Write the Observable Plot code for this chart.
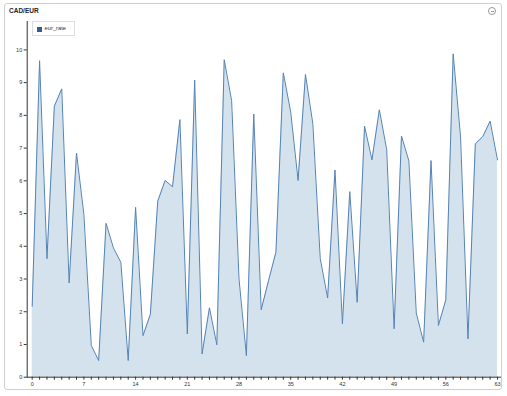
<!DOCTYPE html>
<html>
<head>
<meta charset="utf-8">
<script src="https://cdn.jsdelivr.net/npm/d3@7"></script>
<script src="https://cdn.jsdelivr.net/npm/@observablehq/plot@0.6"></script>
<style>
  html, body { margin: 0; padding: 0; background: #fff; width: 507px; height: 396px; overflow: hidden; font-family: "Liberation Sans", Arial, sans-serif; }
  #card { position: absolute; left: 4px; top: 3px; width: 498px; height: 387px; border: 1px solid #cfcfcf; border-radius: 3px; box-sizing: border-box; }
  #title { position: absolute; left: 9px; top: 7px; font-size: 6.5px; font-weight: bold; color: #222; }
  #icon { position: absolute; left: 488px; top: 7px; width: 6px; height: 6px; border: 1px solid #999; border-radius: 50%; }
  #icon::after { content: ""; position: absolute; left: 1.5px; top: 2.5px; width: 3px; height: 1px; background: #999; }
  #chart { position: absolute; left: 0; top: 0; }
  #legend { position: absolute; left: 32px; top: 21px; width: 43px; height: 15px; border: 1px solid #ddd; background: #fff; box-sizing: border-box; font-size: 5.8px; color: #333; }
  #legend .sw { position: absolute; left: 4px; top: 4.5px; width: 5px; height: 5px; background: #2f5f91; }
  #legend .lb { position: absolute; left: 11.5px; top: 3.3px; }
</style>
</head>
<body>
<div id="card"></div>
<div id="chart"></div>
<div id="title">CAD/EUR</div>
<div id="icon"></div>
<div id="legend"><div class="sw"></div><div class="lb"></div></div>
<script>
const seriesName = "eur_rate";
const eurRate = [2.17, 9.67, 3.62, 8.28, 8.81, 2.88, 6.85, 4.97, 0.97, 0.51,
  4.70, 3.95, 3.51, 0.51, 5.19, 1.27, 1.92, 5.38, 6.01, 5.82,
  7.87, 1.32, 9.08, 0.71, 2.12, 0.99, 9.70, 8.45, 3.00, 0.66,
  8.04, 2.06, 2.95, 3.82, 9.30, 8.10, 6.01, 9.25, 7.74, 3.62,
  2.42, 6.33, 1.63, 5.67, 2.29, 7.67, 6.64, 8.17, 6.95, 1.48,
  7.37, 6.61, 1.96, 1.07, 6.62, 1.58, 2.36, 9.88, 7.33, 1.17,
  7.13, 7.35, 7.82, 6.64];
const xTickLabels = [0, 7, 14, 21, 28, 35, 42, 49, 56, 63];
const yTicks = [0, 1, 2, 3, 4, 5, 6, 7, 8, 9, 10];

const data = eurRate.map((v, i) => ({i, v}));
const yMax = d3.max(eurRate) * 1.1;

document.querySelector("#legend .lb").textContent = seriesName;

const chart = Plot.plot({
  width: 507,
  height: 396,
  marginLeft: 31.7,
  marginRight: 10,
  marginTop: 21,
  marginBottom: 19.3,
  style: {fontFamily: "Liberation Sans, Arial, sans-serif", fontSize: "5.5px", color: "#333", background: "transparent"},
  x: {domain: [0, eurRate.length - 1]},
  y: {domain: [0, yMax]},
  marks: [
    Plot.areaY(data, {x: "i", y: "v", fill: "#d4e2ee"}),
    Plot.lineY(data, {x: "i", y: "v", stroke: "#5583b3", strokeWidth: 1}),
    Plot.frame({anchor: "left", dx: -5, stroke: "#333"}),
    Plot.ruleY([0], {insetLeft: -5, insetRight: -4, stroke: "#333"}),
    Plot.axisY({ticks: yTicks, tickSize: 3, tickPadding: 2, dx: -5, label: null, stroke: "#333"}),
    Plot.axisX({ticks: d3.range(eurRate.length), tickSize: 3, tickPadding: 1.5, label: null,
      tickFormat: d => xTickLabels.includes(d) ? String(d) : "", stroke: "#333"})
  ]
});
document.getElementById("chart").appendChild(chart);
</script>
</body>
</html>
